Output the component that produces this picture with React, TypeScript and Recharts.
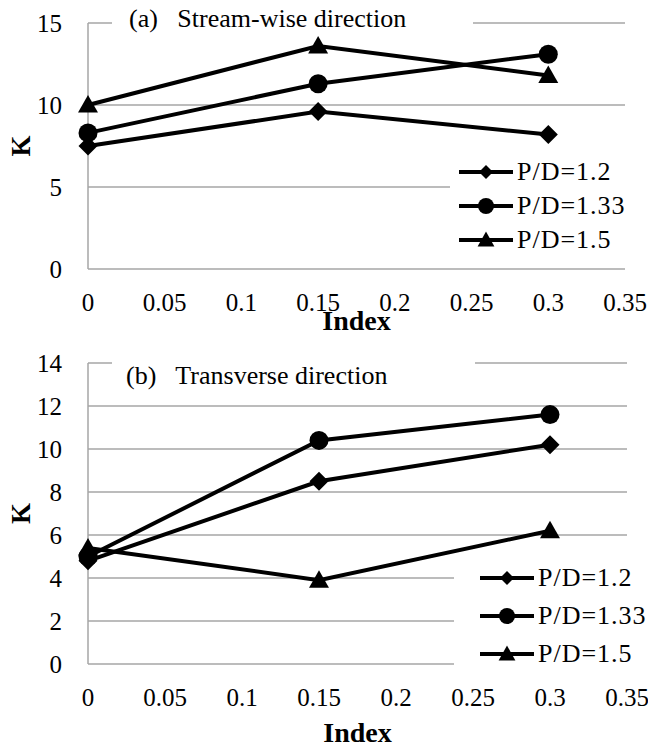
import React from 'react';
import { LineChart, Line, XAxis, YAxis, CartesianGrid, Legend, Label } from 'recharts';

// x positions (Index) and K values
const indexValues = [0, 0.15, 0.3];
const seriesNames = ['P/D=1.2', 'P/D=1.33', 'P/D=1.5'];

const streamPD12 = [7.5, 9.6, 8.2];
const streamPD133 = [8.3, 11.3, 13.1];
const streamPD15 = [10.0, 13.6, 11.8];

const transPD12 = [4.8, 8.5, 10.2];
const transPD133 = [5.0, 10.4, 11.6];
const transPD15 = [5.4, 3.9, 6.2];

const xTicks = [0, 0.05, 0.1, 0.15, 0.2, 0.25, 0.3, 0.35];
const streamYTicks = [0, 5, 10, 15];
const transYTicks = [0, 2, 4, 6, 8, 10, 12, 14];

const SERIF = "'Liberation Serif', 'Times New Roman', serif";
const GRID = '#a6a6a6';

const buildRows = (a: number[], b: number[], c: number[]) =>
    indexValues.map((x, i) => ({ index: x, pd12: a[i], pd133: b[i], pd15: c[i] }));

const streamData = buildRows(streamPD12, streamPD133, streamPD15);
const transData = buildRows(transPD12, transPD133, transPD15);

type Shape = 'diamond' | 'circle' | 'triangle';

const marker = (shape: Shape, cx: number, cy: number, s: number, key?: any) => {
    if (shape === 'diamond') {
        return <polygon key={key} points={`${cx},${cy - s} ${cx + s},${cy} ${cx},${cy + s} ${cx - s},${cy}`} fill="#000" />;
    }
    if (shape === 'circle') {
        return <circle key={key} cx={cx} cy={cy} r={s} fill="#000" />;
    }
    return <polygon key={key} points={`${cx},${cy - s * 1.05} ${cx + s * 1.05},${cy + s * 0.8} ${cx - s * 1.05},${cy + s * 0.8}`} fill="#000" />;
};

const dotFor = (shape: Shape) => (p: any) => marker(shape, p.cx, p.cy, 9.5, `${shape}-${p.index}`);

const shapes: Shape[] = ['diamond', 'circle', 'triangle'];
const keys = ['pd12', 'pd133', 'pd15'];

const LegendBox = ({ rowH, lineX }: { rowH: number; lineX: number }) => (
    <div style={{ background: '#fff', fontFamily: SERIF, fontSize: 26, letterSpacing: 1, color: '#000' }}>
        {seriesNames.map((name, i) => (
            <div key={name} style={{ height: rowH, display: 'flex', alignItems: 'center', whiteSpace: 'nowrap' }}>
                <svg width={lineX + 58} height={rowH} style={{ flex: 'none' }}>
                    <line x1={lineX} x2={lineX + 54} y1={rowH / 2} y2={rowH / 2} stroke="#000" strokeWidth={4} />
                    {marker(shapes[i], lineX + 27, rowH / 2, i === 0 ? 7 : 8)}
                </svg>
                <span>{name}</span>
            </div>
        ))}
    </div>
);

const yLabel = (props: any) => {
    const vb = props.viewBox;
    const cy = vb.y + vb.height / 2;
    return (
        <text x={21} y={cy} transform={`rotate(-90 21 ${cy})`} textAnchor="middle" dominantBaseline="central"
            fontFamily={SERIF} fontWeight="bold" fontSize={27} fill="#000">K</text>
    );
};

interface PanelProps {
    data: any[];
    height: number;
    plotHeight: number;
    yTicks: number[];
    rightMargin: number;
    indexOffset: number;
    legendTop: number;
    legendLeft: number;
    rowH: number;
    lineX: number;
}

const Panel = ({ data, height, plotHeight, yTicks, rightMargin, indexOffset, legendTop, legendLeft, rowH, lineX }: PanelProps) => (
    <LineChart width={648} height={height} data={data} margin={{ top: 23, right: rightMargin, left: 0, bottom: 0 }}>
        <CartesianGrid vertical={false} stroke={GRID} strokeWidth={1.5} />
        <XAxis
            dataKey="index" type="number" domain={[0, 0.35]} ticks={xTicks} height={height - 23 - plotHeight}
            axisLine={false} tickLine={false} tickSize={0} tickMargin={24} interval={0}
            tick={{ fill: '#000', fontSize: 25, fontFamily: SERIF }}
        >
            <Label value="Index" position="insideBottom" offset={indexOffset} fill="#000"
                fontFamily={SERIF} fontWeight="bold" fontSize={28} />
        </XAxis>
        <YAxis
            type="number" domain={[yTicks[0], yTicks[yTicks.length - 1]]} ticks={yTicks} width={88} interval={0}
            axisLine={{ stroke: GRID, strokeWidth: 1.5 }} tickLine={false} tickSize={0} tickMargin={26}
            tick={{ fill: '#000', fontSize: 25, fontFamily: SERIF }}
        >
            <Label content={yLabel} />
        </YAxis>
        <Legend
            layout="vertical" align="center" verticalAlign="middle"
            content={() => <LegendBox rowH={rowH} lineX={lineX} />}
            wrapperStyle={{ position: 'absolute', left: legendLeft, top: legendTop, width: 648 - legendLeft, height: 'auto' }}
        />
        {keys.map((k, i) => (
            <Line key={k} dataKey={k} name={seriesNames[i]} type="linear" stroke="#000" strokeWidth={4}
                dot={dotFor(shapes[i])} activeDot={false} isAnimationActive={false} />
        ))}
    </LineChart>
);

const titleStyle: React.CSSProperties = {
    position: 'absolute', background: '#fff', fontFamily: SERIF, fontSize: 26, color: '#000',
    whiteSpace: 'pre', lineHeight: '30px', height: 30,
};

export default function App() {
    return (
        <div style={{ position: 'absolute', left: 0, top: 0, width: 648, height: 748, overflow: 'hidden', background: '#fff', fontFamily: SERIF }}>
            <style>{`.recharts-wrapper, .recharts-wrapper text, .recharts-legend-wrapper { font-family: ${SERIF} !important; }`}</style>
            <div style={{ position: 'absolute', left: 0, top: 0 }}>
                <Panel data={streamData} height={340} plotHeight={246} yTicks={streamYTicks} rightMargin={23} indexOffset={10}
                    legendTop={155} legendLeft={450} rowH={34} lineX={9} />
            </div>
            <div style={{ position: 'absolute', left: 0, top: 340 }}>
                <Panel data={transData} height={408} plotHeight={301} yTicks={transYTicks} rightMargin={21} indexOffset={6}
                    legendTop={219} legendLeft={454} rowH={38} lineX={26} />
            </div>
            <div style={{ ...titleStyle, left: 112, top: 4, width: 361, paddingLeft: 17, boxSizing: 'border-box' }}>
                {'(a)   Stream-wise direction'}
            </div>
            <div style={{ ...titleStyle, left: 112, top: 361, width: 363, paddingLeft: 14, boxSizing: 'border-box' }}>
                {'(b)   Transverse direction'}
            </div>
        </div>
    );
}
